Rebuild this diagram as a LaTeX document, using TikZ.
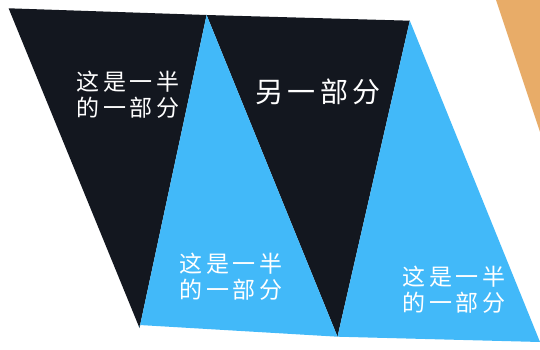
\documentclass[tikz,border=0pt]{standalone}
\usepackage{fontspec}
\newfontfamily\cjk[LetterSpace=15]{Noto Sans CJK SC}
\definecolor{triblack}{HTML}{13171F}
\definecolor{triblue}{HTML}{42B9F9}
\definecolor{corner}{HTML}{E8AC68}
\begin{document}
\begin{tikzpicture}[x=1pt,y=-1pt]

        \useasboundingbox[fill=white] (0,0) rectangle (540,350);

        % corners of the strip
        \coordinate (a) at (8.6,8.3);
        \coordinate (b) at (206.6,15);
        \coordinate (c) at (409.8,20.7);
        \coordinate (d) at (139.5,328);
        \coordinate (e) at (337.5,336.7);
        \coordinate (f) at (540,342);

        \fill[corner] (496,0) -- (540,0) -- (540,132) -- cycle;

        \begin{scope}[line join=round]
          \fill[triblack] (a) -- (b) -- (d) -- cycle;
          \fill[triblack] (b) -- (c) -- (e) -- cycle;
          \fill[triblue]  (d) -- (b) -- (e) -- ([yshift=3]d) -- cycle;
          \fill[triblue]  (e) -- (c) -- (f) -- cycle;
        \end{scope}

        \begin{scope}[every node/.style={text=white, align=center,
            font=\cjk\fontsize{23}{26}\selectfont}]
          \node (half1) at (128,95)  {这是一半\\的一部分};
          \node (half2) at (231,277) {这是一半\\的一部分};
          \node (half3) at (454,290) {这是一半\\的一部分};
          \node[font=\cjk\fontsize{28}{30}\selectfont] (other) at (318,92) {另一部分};
        \end{scope}

      \end{tikzpicture}
\end{document}
